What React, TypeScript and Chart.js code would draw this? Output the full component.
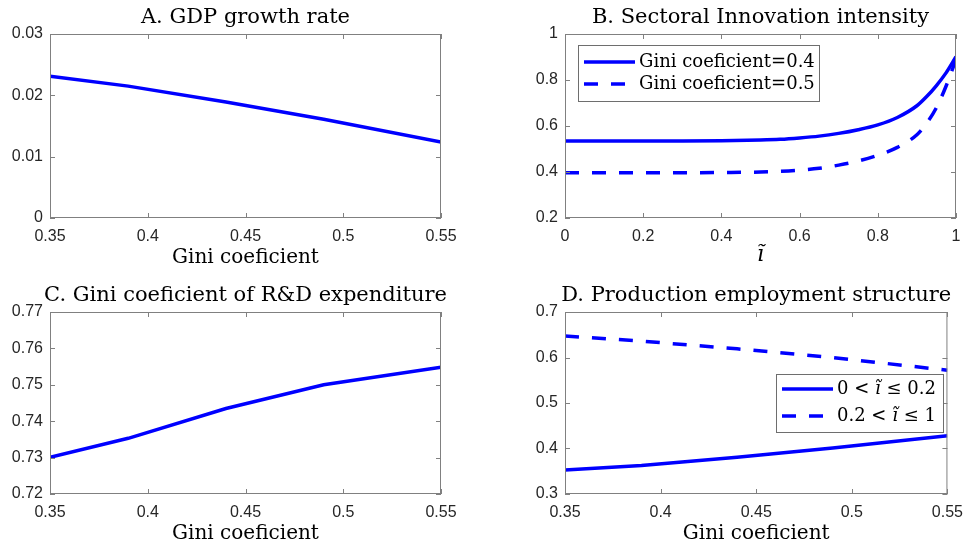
import React, { useEffect, useRef } from "react";
import { Chart, registerables } from "chart.js";

Chart.register(...registerables);

// ---------- data ----------
const giniX = [0.35, 0.39, 0.44, 0.49, 0.55];
const gdpGrowth = [0.0231, 0.0215, 0.0189, 0.0161, 0.0124];
const rdGini = [0.7301, 0.7353, 0.7435, 0.75, 0.7548];
const empLow = [0.3527, 0.3625, 0.381, 0.401, 0.428];
const empHigh = [0.6473, 0.636, 0.619, 0.6, 0.572];

const iTilde = [0, 0.1, 0.2, 0.3, 0.4, 0.5, 0.55, 0.6, 0.65, 0.7, 0.75, 0.8, 0.85, 0.9, 0.925, 0.95, 0.975, 1.0];
const innovGini04 = [0.535, 0.535, 0.535, 0.535, 0.536, 0.539, 0.542, 0.548, 0.556, 0.568, 0.584, 0.605, 0.637, 0.688, 0.728, 0.776, 0.832, 0.901];
const innovGini05 = [0.397, 0.397, 0.397, 0.397, 0.398, 0.4, 0.403, 0.408, 0.416, 0.43, 0.448, 0.473, 0.507, 0.562, 0.612, 0.68, 0.775, 0.89];

// ---------- ticks ----------
const giniTicks = [0.35, 0.4, 0.45, 0.5, 0.55];
const giniTickLabels = ["0.35", "0.4", "0.45", "0.5", "0.55"];
const gdpTicks = [0, 0.01, 0.02, 0.03];
const gdpTickLabels = ["0", "0.01", "0.02", "0.03"];
const iTicks = [0, 0.2, 0.4, 0.6, 0.8, 1];
const iTickLabels = ["0", "0.2", "0.4", "0.6", "0.8", "1"];
const innovTicks = [0.2, 0.4, 0.6, 0.8, 1];
const innovTickLabels = ["0.2", "0.4", "0.6", "0.8", "1"];
const rdTicks = [0.72, 0.73, 0.74, 0.75, 0.76, 0.77];
const rdTickLabels = ["0.72", "0.73", "0.74", "0.75", "0.76", "0.77"];
const empTicks = [0.3, 0.4, 0.5, 0.6, 0.7];
const empTickLabels = ["0.3", "0.4", "0.5", "0.6", "0.7"];

// ---------- text ----------
const titleA = "A. GDP growth rate";
const titleB = "B. Sectoral Innovation intensity";
const titleC = "C. Gini coeficient of R&D expenditure";
const titleD = "D. Production employment structure";
const giniAxisTitle = "Gini coeficient";
const iAxisTitle = "\u0129";
const legendB = [
  [{ t: "Gini coeficient=0.4" }],
  [{ t: "Gini coeficient=0.5" }],
];
const legendD = [
  [{ t: "0 < " }, { t: "\u0129", it: true }, { t: " \u2264 0.2" }],
  [{ t: "0.2 < " }, { t: "\u0129", it: true }, { t: " \u2264 1" }],
];

// ---------- styling ----------
const BLUE = "#0000ff";
const BOX = "#808080";
const SERIF = '"DejaVu Serif", serif';
const SANS = '"Liberation Sans", Arial, sans-serif';
const DASH = [14, 13];

type Seg = { t: string; it?: boolean };
type PanelCfg = {
  left: number; top: number; width: number; height: number;
  padL: number; padR: number; padT: number; padB: number;
  xMin: number; xMax: number; yMin: number; yMax: number;
  xTicks: number[]; xLabels: string[]; yTicks: number[]; yLabels: string[];
  series: { xs: number[]; ys: number[]; dashed?: boolean; smooth?: boolean }[];
  title: string; xTitle: string; xTitleItalic?: boolean;
  legend?: { x: number; y: number; w: number; h: number; rows: number[]; entries: Seg[][]; dashes: boolean[] };
};

function drawSegs(ctx: CanvasRenderingContext2D, segs: Seg[], x: number, y: number, size: number) {
  let cx = x;
  for (const s of segs) {
    ctx.font = `${s.it ? "italic " : ""}${size}px ${SERIF}`;
    ctx.fillText(s.t, cx, y);
    cx += ctx.measureText(s.t).width;
  }
}

function makeDecor(p: PanelCfg) {
  return {
    id: "decor",
    afterDraw(chart: any) {
      const ctx: CanvasRenderingContext2D = chart.ctx;
      const a = chart.chartArea;
      const xs = chart.scales.x;
      const ys = chart.scales.y;
      ctx.save();
      // inward tick marks
      ctx.strokeStyle = BOX;
      ctx.lineWidth = 1;
      ctx.setLineDash([]);
      ctx.beginPath();
      p.xTicks.forEach((v) => {
        const x = Math.round(xs.getPixelForValue(v)) + 0.5;
        ctx.moveTo(x, a.bottom);
        ctx.lineTo(x, a.bottom - 5);
        ctx.moveTo(x, a.top);
        ctx.lineTo(x, a.top + 5);
      });
      p.yTicks.forEach((v) => {
        const y = Math.round(ys.getPixelForValue(v)) + 0.5;
        ctx.moveTo(a.left, y);
        ctx.lineTo(a.left + 5, y);
        ctx.moveTo(a.right, y);
        ctx.lineTo(a.right - 5, y);
      });
      ctx.stroke();
      ctx.strokeRect(a.left + 0.5, a.top + 0.5, a.right - a.left - 1, a.bottom - a.top - 1);

      // title
      ctx.fillStyle = "#000";
      ctx.textAlign = "center";
      ctx.textBaseline = "middle";
      ctx.font = `21px ${SERIF}`;
      ctx.fillText(p.title, (a.left + a.right) / 2, a.top - 16);
      // x axis title
      ctx.font = `${p.xTitleItalic ? "italic 22px" : "20px"} ${SERIF}`;
      ctx.fillText(p.xTitle, (a.left + a.right) / 2, a.bottom + (p.xTitleItalic ? 37 : 40));

      // legend
      if (p.legend) {
        const L = p.legend;
        const bx = a.left + L.x;
        const by = a.top + L.y;
        ctx.fillStyle = "#fff";
        ctx.fillRect(bx, by, L.w, L.h);
        ctx.strokeStyle = "#6e6e6e";
        ctx.lineWidth = 1;
        ctx.strokeRect(Math.round(bx) + 0.5, Math.round(by) + 0.5, L.w, L.h);
        L.entries.forEach((segs, i) => {
          const ry = by + L.rows[i];
          ctx.strokeStyle = BLUE;
          ctx.lineWidth = 3.5;
          ctx.setLineDash(L.dashes[i] ? DASH : []);
          ctx.beginPath();
          ctx.moveTo(bx + 6, ry);
          ctx.lineTo(bx + 57, ry);
          ctx.stroke();
          ctx.setLineDash([]);
          ctx.fillStyle = "#000";
          ctx.textAlign = "left";
          ctx.textBaseline = "middle";
          drawSegs(ctx, segs, bx + 61, ry, 18);
        });
      }
      ctx.restore();
    },
  };
}

function Panel({ p }: { p: PanelCfg }) {
  const ref = useRef<HTMLCanvasElement>(null);
  useEffect(() => {
    if (!ref.current) return;
    const datasets = p.series.map((s) => ({
      data: s.xs.map((x, i) => ({ x, y: s.ys[i] })),
      borderColor: BLUE,
      backgroundColor: BLUE,
      borderWidth: 3.5,
      borderDash: s.dashed ? DASH : [],
      borderCapStyle: "butt" as const,
      pointRadius: 0,
      fill: false,
      tension: 0,
      cubicInterpolationMode: s.smooth ? ("monotone" as const) : ("default" as const),
    }));
    const tickFont = { family: SANS, size: 16 };
    const chart = new Chart(ref.current, {
      type: "line",
      data: { datasets },
      plugins: [makeDecor(p)],
      options: {
        animation: false,
        responsive: false,
        layout: { padding: { left: 0, right: p.padR, top: p.padT, bottom: 0 } },
        plugins: { legend: { display: false }, title: { display: false }, tooltip: { enabled: false } },
        scales: {
          x: {
            type: "linear",
            min: p.xMin,
            max: p.xMax,
            grid: { display: false, drawTicks: false },
            border: { display: false },
            afterBuildTicks: (s: any) => { s.ticks = p.xTicks.map((v) => ({ value: v })); },
            afterFit: (s: any) => { s.height = p.padB; },
            ticks: {
              font: tickFont,
              color: "#262626",
              padding: 9,
              maxRotation: 0,
              autoSkip: false,
              callback: (_v: any, i: number) => p.xLabels[i],
            },
          },
          y: {
            type: "linear",
            min: p.yMin,
            max: p.yMax,
            grid: { display: false, drawTicks: false },
            border: { display: false },
            afterBuildTicks: (s: any) => { s.ticks = p.yTicks.map((v) => ({ value: v })); },
            afterFit: (s: any) => { s.width = p.padL; },
            ticks: {
              font: tickFont,
              color: "#262626",
              padding: 7,
              autoSkip: false,
              callback: (_v: any, i: number) => p.yLabels[i],
            },
          },
        },
      } as any,
    });
    return () => chart.destroy();
  }, [p]);
  return (
    <canvas
      ref={ref}
      width={p.width}
      height={p.height}
      style={{ position: "absolute", left: p.left, top: p.top, width: p.width, height: p.height }}
    />
  );
}

const panels: PanelCfg[] = [
  {
    left: 0, top: 0, width: 486, height: 272,
    padL: 50, padR: 45, padT: 34, padB: 54,
    xMin: 0.35, xMax: 0.55, yMin: 0, yMax: 0.03,
    xTicks: giniTicks, xLabels: giniTickLabels, yTicks: gdpTicks, yLabels: gdpTickLabels,
    series: [{ xs: giniX, ys: gdpGrowth }],
    title: titleA, xTitle: giniAxisTitle,
  },
  {
    left: 486, top: 0, width: 486, height: 272,
    padL: 79, padR: 16, padT: 34, padB: 54,
    xMin: 0, xMax: 1, yMin: 0.2, yMax: 1,
    xTicks: iTicks, xLabels: iTickLabels, yTicks: innovTicks, yLabels: innovTickLabels,
    series: [
      { xs: iTilde, ys: innovGini04, smooth: true },
      { xs: iTilde, ys: innovGini05, dashed: true, smooth: true },
    ],
    title: titleB, xTitle: iAxisTitle, xTitleItalic: true,
    legend: { x: 13, y: 11, w: 241, h: 56, rows: [17, 39], entries: legendB, dashes: [false, true] },
  },
  {
    left: 0, top: 272, width: 486, height: 273,
    padL: 50, padR: 45, padT: 40, padB: 51,
    xMin: 0.35, xMax: 0.55, yMin: 0.72, yMax: 0.77,
    xTicks: giniTicks, xLabels: giniTickLabels, yTicks: rdTicks, yLabels: rdTickLabels,
    series: [{ xs: giniX, ys: rdGini }],
    title: titleC, xTitle: giniAxisTitle,
  },
  {
    left: 486, top: 272, width: 486, height: 273,
    padL: 79, padR: 16, padT: 40, padB: 51,
    xMin: 0.35, xMax: 0.55, yMin: 0.3, yMax: 0.7,
    xTicks: giniTicks, xLabels: giniTickLabels, yTicks: empTicks, yLabels: empTickLabels,
    series: [
      { xs: giniX, ys: empLow },
      { xs: giniX, ys: empHigh, dashed: true },
    ],
    title: titleD, xTitle: giniAxisTitle,
    legend: { x: 211, y: 62, w: 167, h: 58, rows: [15, 42], entries: legendD, dashes: [false, true] },
  },
];

export default function App() {
  return (
    <div style={{ position: "absolute", left: 0, top: 0, width: 972, height: 545, background: "#fff" }}>
      {panels.map((p, i) => (
        <Panel key={i} p={p} />
      ))}
    </div>
  );
}
